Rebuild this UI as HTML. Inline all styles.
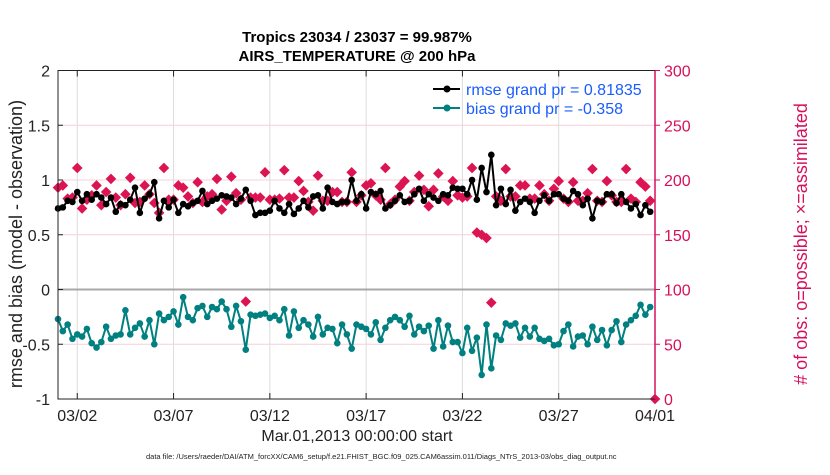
<!DOCTYPE html>
<html><head><meta charset="utf-8"><style>
body{margin:0;background:#fff;}
svg text{font-family:"Liberation Sans",Arial,sans-serif;}
</style></head><body>
<svg id="chart" width="830" height="470" viewBox="0 0 830 470" xmlns="http://www.w3.org/2000/svg">
<rect width="830" height="470" fill="#fff"/>
<g id="grid"></g>
<g id="series"></g>
<g id="axes"></g>
<text x="357" y="42" text-anchor="middle" font-size="15" font-weight="bold">Tropics 23034 / 23037 = 99.987%</text>
<text x="357" y="61" text-anchor="middle" font-size="15" font-weight="bold">AIRS_TEMPERATURE @ 200 hPa</text>
<text x="357" y="441" text-anchor="middle" font-size="16" fill="#222">Mar.01,2013 00:00:00 start</text>
<text transform="translate(22,244) rotate(-90)" text-anchor="middle" font-size="18" fill="#222">rmse and bias (model - observation)</text>
<text transform="translate(807,244) rotate(-90)" text-anchor="middle" font-size="18" fill="#d6105a"># of obs: o=possible; ×=assimilated</text>
<text x="146" y="459" font-size="7.5" fill="#222">data file: /Users/raeder/DAI/ATM_forcXX/CAM6_setup/f.e21.FHIST_BGC.f09_025.CAM6assim.011/Diags_NTrS_2013-03/obs_diag_output.nc</text>
<g>
<g>
<line x1="433" y1="89" x2="460" y2="89" stroke="#000" stroke-width="2"/><circle cx="447" cy="89" r="3.5" fill="#000"/>
<text x="466" y="95" font-size="16" fill="#1a5cff">rmse grand pr = 0.81835</text></g>
<g>
<line x1="433" y1="108" x2="460" y2="108" stroke="#008080" stroke-width="2"/><circle cx="447" cy="108" r="3.5" fill="#008080"/>
<text x="466" y="114" font-size="16" fill="#1a5cff">bias grand pr = -0.358</text></g>
</g>
</svg>
<script>
const xTickLabels=["03/02","03/07","03/12","03/17","03/22","03/27","04/01"];
const xTickDays=[1,6,11,16,21,26,31];
const yLeftTicks=[2,1.5,1,0.5,0,-0.5,-1];
const yRightTicks=[300,250,200,150,100,50,0];
const rmse=[0.74,0.75,0.81,0.80,0.89,0.81,0.87,0.82,0.87,0.84,0.78,0.84,0.71,0.78,0.77,0.82,0.93,0.70,0.83,0.87,0.98,0.65,0.81,0.75,0.82,0.70,0.78,0.76,0.79,0.81,0.90,0.78,0.81,0.83,0.86,0.85,0.84,0.78,0.83,0.91,0.81,0.68,0.70,0.70,0.72,0.81,0.74,0.70,0.78,0.69,0.74,0.81,0.75,0.85,0.86,0.74,0.93,0.80,0.78,0.80,0.80,1.00,
0.81,0.87,0.74,0.89,0.87,0.90,0.74,0.77,0.81,0.86,0.80,0.81,0.87,0.92,0.81,0.87,0.84,0.81,0.87,0.86,0.93,0.92,0.92,0.87,1.00,0.82,1.11,0.89,1.23,0.77,0.92,0.78,0.91,0.72,0.80,0.83,0.80,0.70,0.81,0.86,0.81,0.87,0.87,0.83,0.81,0.90,0.87,0.77,0.83,0.65,0.81,0.80,0.87,0.87,0.79,0.87,0.80,0.74,0.78,0.68,0.77,0.71];
const bias=[-0.27,-0.38,-0.32,-0.45,-0.41,-0.43,-0.36,-0.49,-0.53,-0.48,-0.34,-0.45,-0.42,-0.41,-0.19,-0.41,-0.35,-0.31,-0.43,-0.28,-0.50,-0.22,-0.28,-0.25,-0.20,-0.32,-0.07,-0.25,-0.28,-0.17,-0.15,-0.25,-0.16,-0.18,-0.11,-0.18,-0.34,-0.15,-0.29,-0.55,-0.23,-0.24,-0.23,-0.22,-0.26,-0.24,-0.28,-0.18,-0.42,-0.20,-0.35,-0.28,-0.32,-0.43,-0.25,-0.41,-0.35,-0.36,-0.49,-0.32,-0.41,-0.54,-0.32,
-0.34,-0.36,-0.41,-0.30,-0.46,-0.35,-0.28,-0.25,-0.28,-0.34,-0.24,-0.41,-0.34,-0.38,-0.33,-0.54,-0.28,-0.52,-0.33,-0.48,-0.48,-0.58,-0.35,-0.56,-0.44,-0.78,-0.32,-0.72,-0.42,-0.46,-0.31,-0.33,-0.31,-0.44,-0.35,-0.43,-0.35,-0.45,-0.47,-0.45,-0.51,-0.50,-0.38,-0.32,-0.52,-0.43,-0.42,-0.50,-0.34,-0.46,-0.37,-0.51,-0.37,-0.29,-0.48,-0.32,-0.28,-0.24,-0.14,-0.23,-0.16];
const nobs=[193,195,183,184,211,174,182,186,195,177,189,201,184,177,187,202,179,180,195,187,179,170,211,182,182,195,193,185,179,198,180,185,187,201,173,181,203,188,182,89,184,184,184,207,182,182,183,209,184,184,199,190,180,172,204,181,181,189,189,180,180,207,
180,186,195,197,186,182,211,178,182,194,199,181,189,204,191,176,191,206,185,181,199,186,184,185,211,152,150,147,88,185,181,210,185,185,195,195,183,183,195,187,181,192,199,183,180,198,181,181,188,210,181,180,199,186,180,180,210,183,180,198,194,181,0];
const NS='http://www.w3.org/2000/svg';
const L=58,R=655,T=70.5,B=399;
const xs=d=>L+(R-L)*d/31;
const yl=v=>B-(v+1)/3*(B-T);
const yr=v=>B-v/300*(B-T);
function mk(tag,attrs,parent){const e=document.createElementNS(NS,tag);for(const k in attrs)e.setAttribute(k,attrs[k]);parent.appendChild(e);return e;}
const grid=document.getElementById('grid'),ser=document.getElementById('series'),axes=document.getElementById('axes');
xTickDays.forEach((d,i)=>{
 const g=mk('line',{x1:xs(d),x2:xs(d),y1:T,y2:B,stroke:'#dcdcdc','stroke-width':1},grid);
 
 const tk=mk('line',{x1:xs(d),x2:xs(d),y1:B,y2:B-6,stroke:'#222'},axes);
 
 const tk2=mk('line',{x1:xs(d),x2:xs(d),y1:T,y2:T+6,stroke:'#222'},axes);
 
 const t=mk('text',{x:xs(d),y:B+22,'text-anchor':'middle','font-size':16,fill:'#222'},axes);t.textContent=xTickLabels[i];
 
});
yRightTicks.forEach(v=>{
 if(v>0&&v<300){const g=mk('line',{x1:L,x2:R,y1:yr(v),y2:yr(v),stroke:'#f6d0dc','stroke-width':1},grid);
 }
 const tk=mk('line',{x1:R,x2:R+5,y1:yr(v),y2:yr(v),stroke:'#d6105a'},axes);
 
 const t=mk('text',{x:R+9,y:yr(v)+6,'font-size':16,fill:'#d6105a'},axes);t.textContent=v;
 
});
yLeftTicks.forEach(v=>{
 const tk=mk('line',{x1:L,x2:L+5,y1:yl(v),y2:yl(v),stroke:'#222'},axes);
 
 const t=mk('text',{x:L-8,y:yl(v)+6,'text-anchor':'end','font-size':16,fill:'#222'},axes);t.textContent=v;
 
});
const zl=mk('line',{x1:L,x2:R,y1:yl(0),y2:yl(0),stroke:'#a8a8a8','stroke-width':2},grid);

const dt=0.25;
nobs.forEach((v,i)=>{
 const x=xs(i*dt),y=yr(v),s=5.3;
 const p=mk('polygon',{points:`${x},${y-s} ${x+s},${y} ${x},${y+s} ${x-s},${y}`,fill:'#dc1452'},ser);
 
});
function line(arr,color,name){
 const pts=arr.map((v,i)=>xs(i*dt)+','+yl(v)).join(' ');
 const pl=mk('polyline',{points:pts,fill:'none',stroke:color,'stroke-width':2},ser);
 
 arr.forEach((v,i)=>{const c=mk('circle',{cx:xs(i*dt),cy:yl(v),r:3.3,fill:color},ser);
 });
}
line(rmse,'#000','rmse');
line(bias,'#008080','bias');
const fr=mk('rect',{x:L,y:T,width:R-L,height:B-T,fill:'none',stroke:'#222','stroke-width':1},axes);

const ra=mk('line',{x1:R,x2:R,y1:T,y2:B,stroke:'#d6105a','stroke-width':1.5},axes);

</script>
</body></html>
